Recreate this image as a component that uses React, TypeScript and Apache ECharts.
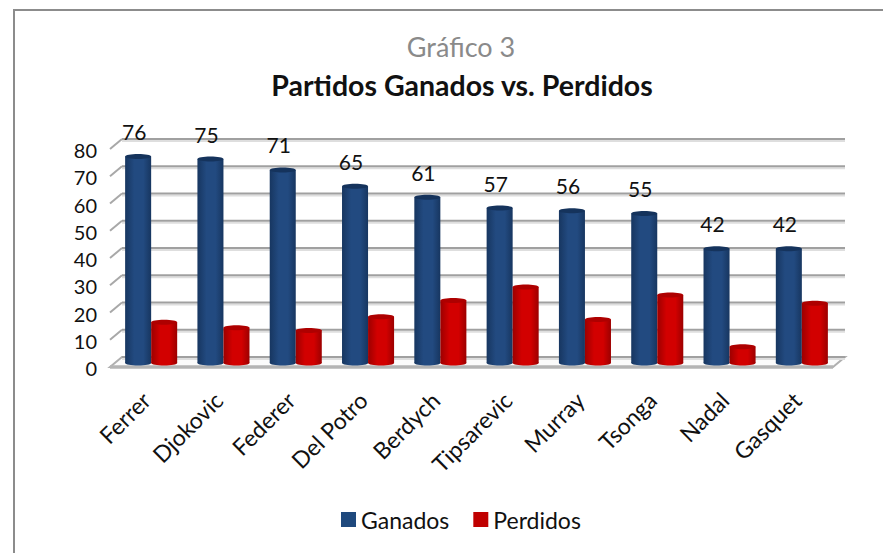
import React, { useEffect, useRef } from "react";
import * as echarts from "echarts";

const categories = ["Ferrer", "Djokovic", "Federer", "Del Potro", "Berdych", "Tipsarevic", "Murray", "Tsonga", "Nadal", "Gasquet"];
const ganados = [76, 75, 71, 65, 61, 57, 56, 55, 42, 42];
const perdidos = [15, 13, 12, 17, 23, 28, 16, 25, 6, 22];
const yTicks = [0, 10, 20, 30, 40, 50, 60, 70, 80];
const FONT = "Lato, 'Open Sans', sans-serif";
const DEPTH_X = 12;
const DEPTH_Y = 10;

function cylinder(colors: string[], top: string, side: -1 | 1, showLabel: boolean) {
  return (params: any, api: any) => {
    const idx = api.value(0);
    const val = api.value(1);
    const band = api.size([1, 0])[0];
    const w = band * 0.36;
    const c = api.coord([idx, val]);
    const b = api.coord([idx, 0]);
    const x = side < 0 ? c[0] - w : c[0];
    const ry = 2.5;
    const fill = new echarts.graphic.LinearGradient(0, 0, 1, 0, [
      { offset: 0, color: colors[0] },
      { offset: 0.35, color: colors[1] },
      { offset: 0.7, color: colors[1] },
      { offset: 1, color: colors[0] },
    ]);
    const children: any[] = [
      { type: "ellipse", shape: { cx: x + w / 2, cy: b[1], rx: w / 2, ry }, style: { fill } },
      { type: "rect", shape: { x, y: c[1], width: w, height: b[1] - c[1] }, style: { fill } },
      { type: "ellipse", shape: { cx: x + w / 2, cy: c[1], rx: w / 2, ry }, style: { fill: top } },
    ];
    if (showLabel) {
      children.push({
        type: "text",
        x: c[0] - w / 2 - 4,
        y: c[1] - 25,
        style: { text: String(val), fill: "#111", font: `21px ${FONT}`, align: "center", verticalAlign: "middle" },
      });
    }
    return { type: "group", children };
  };
}

function wall(params: any, api: any) {
  const v = api.value(0);
  const a = api.coord([0, v]);
  const b = api.coord([1, v]);
  const children: any[] = [];
  if (v === 0) {
    children.push({
      type: "polygon",
      shape: { points: [[a[0], a[1]], [b[0], b[1]], [b[0] - DEPTH_X, b[1] + DEPTH_Y], [a[0] - DEPTH_X, a[1] + DEPTH_Y]] },
      style: { fill: "#fbfbfb", stroke: "#b0b0b0", lineWidth: 2 },
    });
    children.push({ type: "line", shape: { x1: a[0] - DEPTH_X, y1: a[1] + DEPTH_Y, x2: b[0] - DEPTH_X, y2: b[1] + DEPTH_Y }, style: { stroke: "#b4b4b4", lineWidth: 3.5 } });
  } else {
    children.push({ type: "line", shape: { x1: a[0] - DEPTH_X, y1: a[1] + DEPTH_Y, x2: a[0], y2: a[1] }, style: { stroke: "#a8a8a8", lineWidth: 2 } });
  }
  children.push({ type: "line", shape: { x1: a[0], y1: a[1] + 2, x2: b[0], y2: b[1] + 2 }, style: { stroke: "#dedede", lineWidth: 2 } });
  children.push({ type: "line", shape: { x1: a[0], y1: a[1], x2: b[0], y2: b[1] }, style: { stroke: "#a0a0a0", lineWidth: 2 } });
  return { type: "group", children };
}

export default function App() {
  const ref = useRef<HTMLDivElement>(null);
  useEffect(() => {
    document.body.style.margin = "0";
    const chart = echarts.init(ref.current!, null, { renderer: "svg" });
    chart.setOption({
      animation: false,
      backgroundColor: "#fff",
      title: [
        { text: "Gráfico 3", left: 456, top: 28, textAlign: "center", textStyle: { fontFamily: FONT, fontSize: 27, fontWeight: "normal", color: "#8a8a8a" } },
        { text: "Partidos Ganados vs. Perdidos", left: 457, top: 65, textAlign: "center", textStyle: { fontFamily: FONT, fontSize: 28.5, fontWeight: "bold", color: "#111" } },
      ],
      legend: {
        left: 336,
        top: 503,
        itemWidth: 15,
        itemHeight: 15,
        itemGap: 24,
        icon: "rect",
        textStyle: { fontFamily: FONT, fontSize: 23, color: "#111" },
        data: [
          { name: "Ganados", itemStyle: { color: "#1f497d" } },
          { name: "Perdidos", itemStyle: { color: "#c00000" } },
        ],
      },
      grid: [
        { left: 110, top: 150, width: 723, height: 218 },
        { left: 115, top: 145.5, width: 723, height: 217.5 },
        { left: 122, top: 139, width: 723, height: 218 },
      ],
      xAxis: [
        {
          gridIndex: 0,
          type: "category",
          data: categories,
          axisLine: { show: false },
          axisTick: { show: false },
          axisLabel: { interval: 0, rotate: 45, margin: 28, color: "#111", fontFamily: FONT, fontSize: 23 },
        },
        { gridIndex: 1, type: "category", data: categories, show: false },
        { gridIndex: 2, type: "value", min: 0, max: 1, show: false },
      ],
      yAxis: [
        {
          gridIndex: 0,
          type: "value",
          min: 0,
          max: 80,
          interval: 10,
          axisLine: { show: false },
          axisTick: { show: false },
          splitLine: { show: false },
          axisLabel: { margin: 13, color: "#111", fontFamily: FONT, fontSize: 20 },
        },
        { gridIndex: 1, type: "value", min: 0, max: 80, interval: 10, show: false },
        { gridIndex: 2, type: "value", min: 0, max: 80, interval: 10, show: false },
      ],
      series: [
        {
          type: "custom",
          name: "Rejilla",
          xAxisIndex: 2,
          yAxisIndex: 2,
          z: 1,
          silent: true,
          renderItem: wall,
          encode: { y: 0 },
          data: yTicks.map((v) => [v]),
        },
        {
          type: "custom",
          name: "Ganados",
          xAxisIndex: 1,
          yAxisIndex: 1,
          z: 3,
          renderItem: cylinder(["#173660", "#224a80"], "#15335c", -1, true),
          encode: { x: 0, y: 1 },
          data: ganados.map((v, i) => [i, v]),
        },
        {
          type: "custom",
          name: "Perdidos",
          xAxisIndex: 1,
          yAxisIndex: 1,
          z: 3,
          renderItem: cylinder(["#9c0000", "#d20000"], "#ae0000", 1, false),
          encode: { x: 0, y: 1 },
          data: perdidos.map((v, i) => [i, v]),
        },
      ],
      graphic: [
        {
          type: "polyline",
          silent: true,
          shape: { points: [[883, 10], [14, 10], [14, 553]] },
          style: { stroke: "#8c8c8c", lineWidth: 2, fill: "none" },
        },
      ],
    });
    return () => chart.dispose();
  }, []);
  return <div ref={ref} style={{ width: 883, height: 553 }} />;
}
